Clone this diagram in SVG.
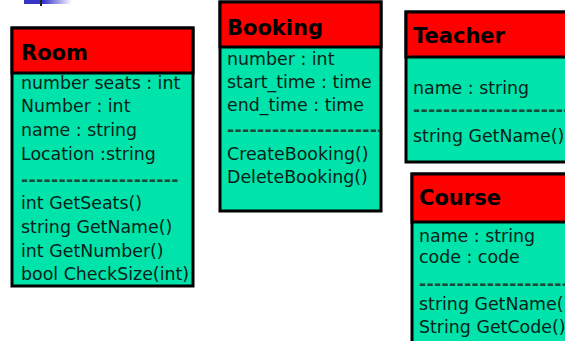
<svg xmlns="http://www.w3.org/2000/svg" width="565" height="341" viewBox="0 0 565 341">
  <defs>
    <linearGradient id="barFade" x1="0" y1="0" x2="1" y2="0">
      <stop offset="0" stop-color="#3535c8"/>
      <stop offset="0.4" stop-color="#3535c8"/>
      <stop offset="1" stop-color="#ffffff"/>
    </linearGradient>
    <style>
      .body { fill: #00e3aa; stroke: #000; stroke-width: 3; }
      .head { fill: #ff0000; stroke: #000; stroke-width: 3; }
      .title { font-family: "DejaVu Sans", sans-serif; font-weight: bold; font-size: 21px; fill: #000; }
      .txt { font-family: "DejaVu Sans", sans-serif; font-size: 17.4px; fill: #061f19; }
      .sep { font-family: "DejaVu Sans", sans-serif; font-weight: bold; font-size: 17.4px; fill: #1a4a3c; letter-spacing: 0.3px; }
    </style>
    <clipPath id="clipBooking"><rect x="220" y="2" width="160" height="209"/></clipPath>
  </defs>

  <rect width="565" height="341" fill="#ffffff"/>

  <!-- title bar ornament -->
  <rect x="24" y="0" width="48" height="4" fill="url(#barFade)"/>
  <rect x="40" y="0" width="2" height="6" fill="#222"/>

  <g id="connectors"></g>

  <g id="room">
    <rect class="body" x="12" y="28" width="181" height="258"/>
    <rect class="head" x="12" y="28" width="181" height="45"/>
    <text class="title" x="21" y="60">Room</text>
    <text class="txt" x="21" y="89">number seats : int</text>
    <text class="txt" x="21" y="112">Number : int</text>
    <text class="txt" x="21" y="136">name : string</text>
    <text class="txt" x="21" y="160">Location :string</text>
    <text class="sep" x="21" y="186">---------------------</text>
    <text class="txt" x="21" y="209">int GetSeats()</text>
    <text class="txt" x="21" y="233">string GetName()</text>
    <text class="txt" x="21" y="257">int GetNumber()</text>
    <text class="txt" x="21" y="280">bool CheckSize(int)</text>
  </g>

  <g id="booking">
    <rect class="body" x="220" y="2" width="161" height="209"/>
    <rect class="head" x="220" y="2" width="161" height="45"/>
    <text class="title" x="227" y="35">Booking</text>
    <text class="txt" x="227" y="65">number : int</text>
    <text class="txt" x="227" y="88">start_time : time</text>
    <text class="txt" x="227" y="111">end_time : time</text>
    <text class="sep" x="227" y="136" clip-path="url(#clipBooking)">----------------------</text>
    <text class="txt" x="227" y="160">CreateBooking()</text>
    <text class="txt" x="227" y="183">DeleteBooking()</text>
  </g>

  <g id="teacher">
    <rect class="body" x="406" y="12" width="170" height="150"/>
    <rect class="head" x="406" y="12" width="170" height="45"/>
    <text class="title" x="413" y="43">Teacher</text>
    <text class="txt" x="413" y="94">name : string</text>
    <text class="sep" x="413" y="116">----------------------</text>
    <text class="txt" x="413" y="142">string GetName()</text>
  </g>

  <g id="course">
    <rect class="body" x="412" y="174" width="170" height="180"/>
    <rect class="head" x="412" y="174" width="170" height="48"/>
    <text class="title" x="419" y="205">Course</text>
    <text class="txt" x="419" y="242">name : string</text>
    <text class="txt" x="419" y="263">code : code</text>
    <text class="sep" x="419" y="290">----------------------</text>
    <text class="txt" x="419" y="310">string GetName()</text>
    <text class="txt" x="419" y="333">String GetCode()</text>
  </g>
</svg>
